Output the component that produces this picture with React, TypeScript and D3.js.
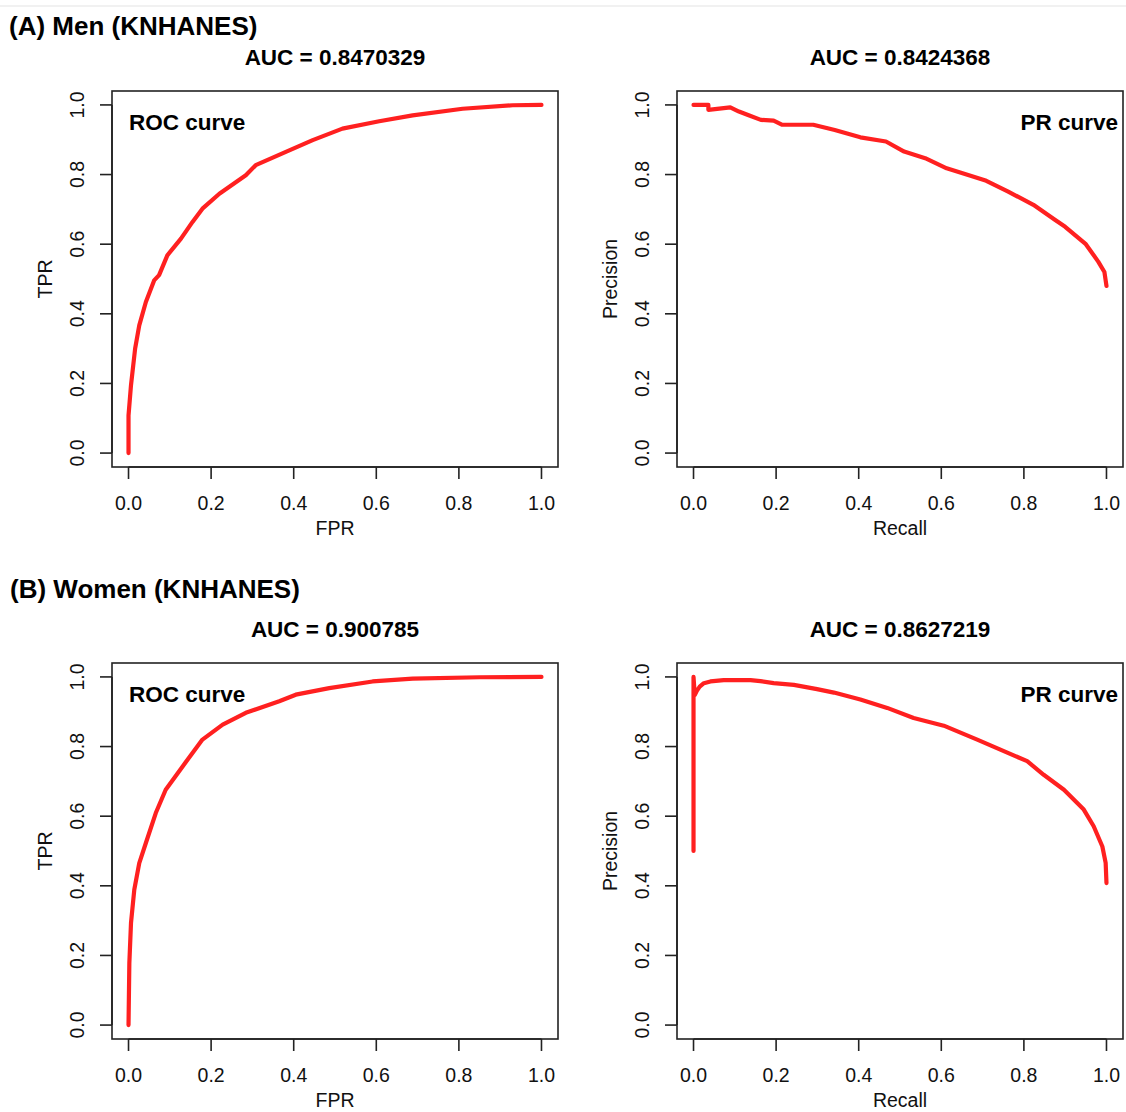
import React from "react";
import * as d3 from "d3";

// ---- Data ----
const rocMenFPR = [0, 0, 0.006, 0.016, 0.026, 0.042, 0.062, 0.074, 0.094, 0.127, 0.155, 0.179, 0.22, 0.284, 0.308, 0.381, 0.446, 0.518, 0.607, 0.688, 0.809, 0.93, 1.0];
const rocMenTPR = [0, 0.108, 0.195, 0.3, 0.367, 0.434, 0.496, 0.511, 0.568, 0.616, 0.664, 0.702, 0.745, 0.798, 0.827, 0.865, 0.899, 0.932, 0.953, 0.97, 0.989, 0.999, 1.0];

const prMenRecall = [0, 0.036, 0.036, 0.089, 0.11, 0.132, 0.163, 0.194, 0.215, 0.29, 0.342, 0.404, 0.466, 0.51, 0.561, 0.613, 0.665, 0.709, 0.762, 0.823, 0.875, 0.9, 0.95, 0.98, 0.995, 1.0];
const prMenPrecision = [1.0, 1.0, 0.986, 0.993, 0.981, 0.971, 0.957, 0.955, 0.943, 0.943, 0.928, 0.907, 0.895, 0.866, 0.847, 0.818, 0.799, 0.782, 0.751, 0.713, 0.67, 0.65, 0.6, 0.55, 0.52, 0.48];

const rocWomenFPR = [0, 0.002, 0.006, 0.014, 0.026, 0.042, 0.066, 0.09, 0.131, 0.179, 0.228, 0.284, 0.365, 0.405, 0.486, 0.591, 0.688, 0.85, 1.0];
const rocWomenTPR = [0, 0.178, 0.293, 0.389, 0.465, 0.523, 0.609, 0.676, 0.743, 0.82, 0.863, 0.897, 0.93, 0.949, 0.968, 0.987, 0.995, 0.999, 1.0];

const prWomenRecall = [0, 0, 0.003, 0.008, 0.015, 0.025, 0.041, 0.073, 0.138, 0.162, 0.194, 0.243, 0.299, 0.34, 0.404, 0.469, 0.533, 0.606, 0.687, 0.743, 0.808, 0.848, 0.897, 0.945, 0.969, 0.99, 0.998, 1.0];
const prWomenPrecision = [0.5, 1.0, 0.948, 0.96, 0.972, 0.982, 0.987, 0.991, 0.991, 0.988, 0.982, 0.977, 0.965, 0.955, 0.935, 0.911, 0.882, 0.86, 0.82, 0.791, 0.758, 0.719, 0.676, 0.619, 0.571, 0.513, 0.466, 0.408];

const tickValues = [0, 0.2, 0.4, 0.6, 0.8, 1.0];
const sectionTitles = ["(A) Men (KNHANES)", "(B) Women (KNHANES)"];
const aucTitles = ["AUC = 0.8470329", "AUC = 0.8424368", "AUC = 0.900785", "AUC = 0.8627219"];
const xLabels = ["FPR", "Recall", "FPR", "Recall"];
const yLabels = ["TPR", "Precision", "TPR", "Precision"];
const curveLabels = ["ROC curve", "PR curve", "ROC curve", "PR curve"];

// ---- Layout ----
const W = 1126;
const H = 1112;
const BOX_W = 446;
const BOX_H = 376;
const LEFTS = [112, 677];
const TOPS = [91, 663];
const FONT = "'Liberation Sans', Arial, Helvetica, sans-serif";
const RED = "#ff2020";

type Panel = {
  left: number;
  top: number;
  xs: number[];
  ys: number[];
  title: string;
  xLabel: string;
  yLabel: string;
  label: string;
  labelRight: boolean;
};

const series = [
  [rocMenFPR, rocMenTPR],
  [prMenRecall, prMenPrecision],
  [rocWomenFPR, rocWomenTPR],
  [prWomenRecall, prWomenPrecision],
];

const panels: Panel[] = series.map((s, i) => ({
  left: LEFTS[i % 2],
  top: TOPS[Math.floor(i / 2)],
  xs: s[0],
  ys: s[1],
  title: aucTitles[i],
  xLabel: xLabels[i],
  yLabel: yLabels[i],
  label: curveLabels[i],
  labelRight: i % 2 === 1,
}));

function PanelView({ p }: { p: Panel }) {
  const x = d3.scaleLinear().domain([-0.04, 1.04]).range([p.left, p.left + BOX_W]);
  const y = d3.scaleLinear().domain([-0.04, 1.04]).range([p.top + BOX_H, p.top]);
  const pts: [number, number][] = p.xs.map((v, i) => [v, p.ys[i]]);
  const line = d3
    .line<[number, number]>()
    .x((d) => x(d[0]))
    .y((d) => y(d[1]));
  const bottom = p.top + BOX_H;
  const cx = p.left + BOX_W / 2;
  const cy = p.top + BOX_H / 2;
  return (
    <g>
      <text x={cx} y={p.top - 26} textAnchor="middle" fontWeight="bold" fontSize={22.5} fill="#000">
        {p.title}
      </text>
      <path d={line(pts) || ""} fill="none" stroke={RED} strokeWidth={4.2} strokeLinejoin="round" strokeLinecap="round" />
      <rect x={p.left} y={p.top} width={BOX_W} height={BOX_H} fill="none" stroke="#222" strokeWidth={1.6} />
      {/* x axis */}
      <line x1={x(0)} x2={x(1)} y1={bottom} y2={bottom} stroke="#222" strokeWidth={1.6} />
      {tickValues.map((t) => (
        <g key={"x" + t}>
          <line x1={x(t)} x2={x(t)} y1={bottom} y2={bottom + 12} stroke="#222" strokeWidth={1.6} />
          <text x={x(t)} y={bottom + 36} textAnchor="middle" dominantBaseline="central" fontSize={19.5} fill="#111">
            {t.toFixed(1)}
          </text>
        </g>
      ))}
      <text x={cx} y={bottom + 61} textAnchor="middle" dominantBaseline="central" fontSize={19.5} fill="#111">
        {p.xLabel}
      </text>
      {/* y axis */}
      <line x1={p.left} x2={p.left} y1={y(0)} y2={y(1)} stroke="#222" strokeWidth={1.6} />
      {tickValues.map((t) => (
        <g key={"y" + t}>
          <line x1={p.left - 12} x2={p.left} y1={y(t)} y2={y(t)} stroke="#222" strokeWidth={1.6} />
          <text
            transform={`translate(${p.left - 35},${y(t)}) rotate(-90)`}
            textAnchor="middle"
            dominantBaseline="central"
            fontSize={19.5}
            fill="#111"
          >
            {t.toFixed(1)}
          </text>
        </g>
      ))}
      <text
        transform={`translate(${p.left - 67},${cy}) rotate(-90)`}
        textAnchor="middle"
        dominantBaseline="central"
        fontSize={19.5}
        fill="#111"
      >
        {p.yLabel}
      </text>
      <text
        x={p.labelRight ? p.left + BOX_W - 5 : p.left + 17}
        y={p.top + 39}
        textAnchor={p.labelRight ? "end" : "start"}
        fontWeight="bold"
        fontSize={22.5}
        fill="#000"
      >
        {p.label}
      </text>
    </g>
  );
}

export default function App() {
  return (
    <svg width={W} height={H} style={{ display: "block", position: "absolute", left: 0, top: 0, background: "#fff" }} fontFamily={FONT}>
      <rect x={0} y={0} width={W} height={H} fill="#fff" />
      <line x1={0} x2={W} y1={6} y2={6} stroke="#ececec" strokeWidth={1.5} />
      <text x={9} y={35} fontWeight="bold" fontSize={26} fill="#000">
        {sectionTitles[0]}
      </text>
      <text x={10} y={598} fontWeight="bold" fontSize={26} fill="#000">
        {sectionTitles[1]}
      </text>
      {panels.map((p, i) => (
        <PanelView key={i} p={p} />
      ))}
    </svg>
  );
}
